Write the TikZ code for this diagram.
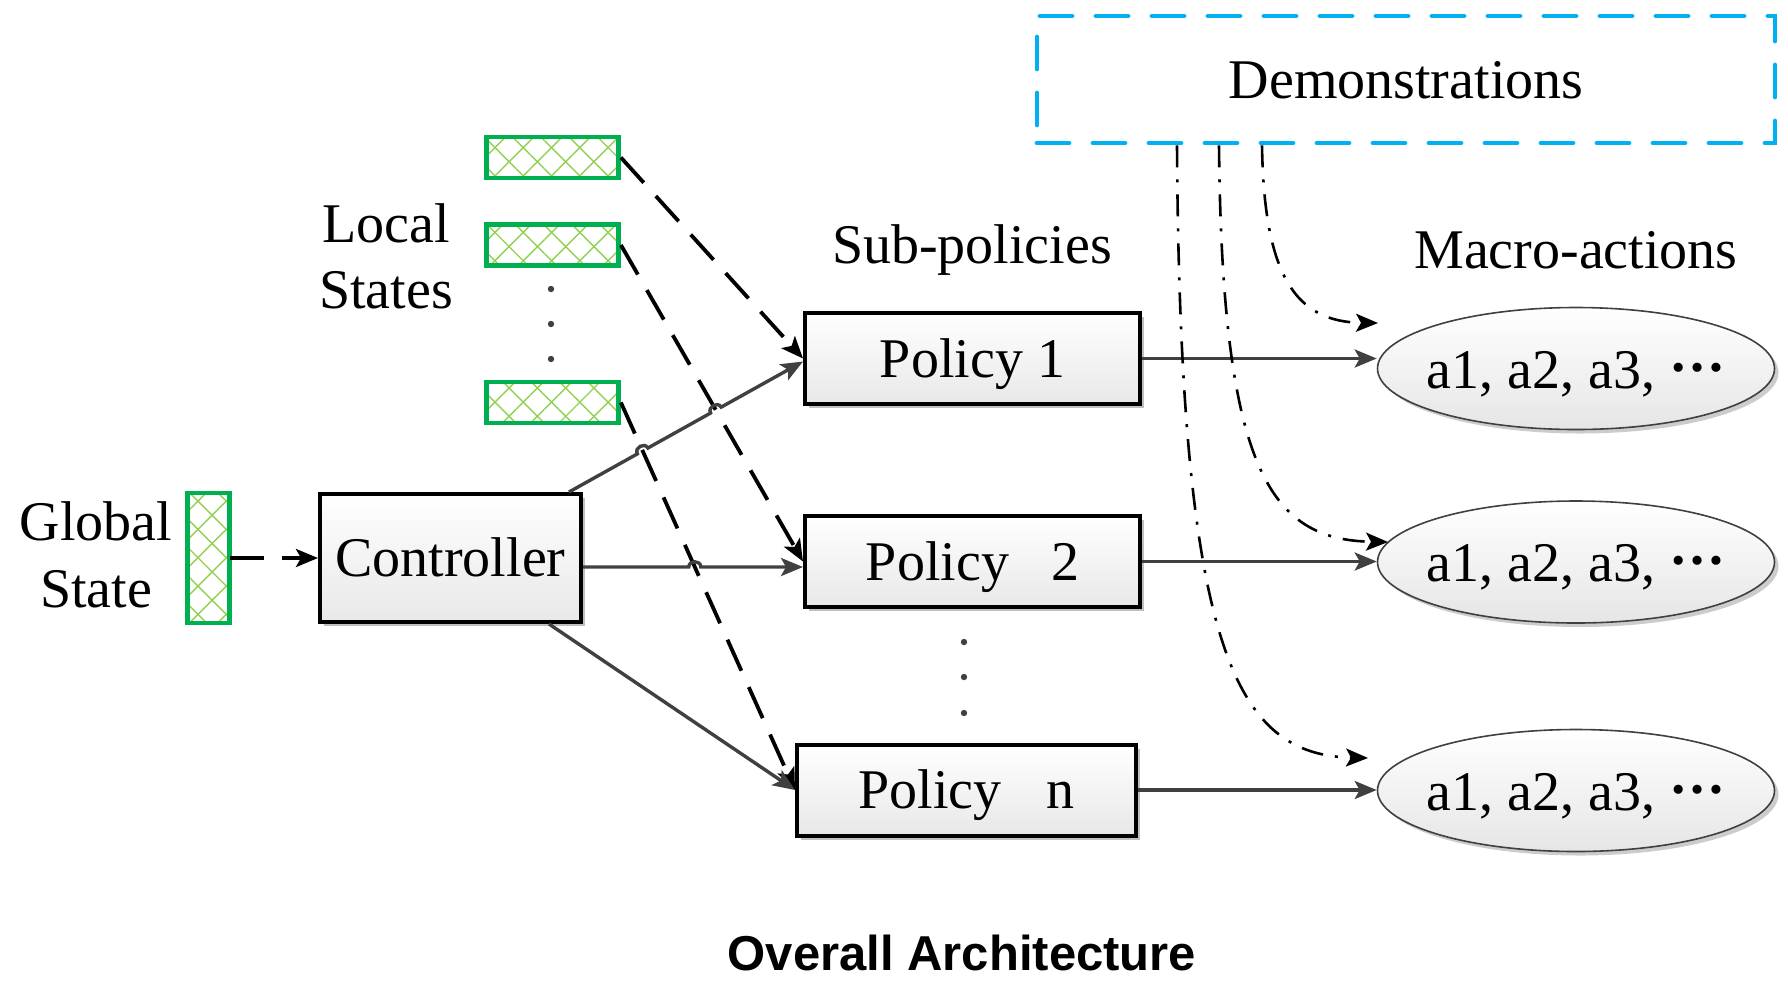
\documentclass[tikz,border=0pt]{standalone}
\usepackage{fontspec}
\setmainfont{Liberation Serif}
\newfontfamily\titlefont{Liberation Sans}
\usetikzlibrary{arrows.meta,shadows,patterns.meta,intersections,calc,shapes.geometric}
\definecolor{dgreen}{HTML}{00B050}
\definecolor{lgreen}{HTML}{92D050}
\definecolor{dblue}{HTML}{00B0F0}
\definecolor{lgray}{HTML}{404040}
\newcommand{\mydots}{\raisebox{0.3em}{\bfseries …}}
\begin{document}
\begin{tikzpicture}[x=0.5pt,y=-0.5pt,
  every node/.style={font=\fontsize{28}{33}\selectfont},
  box/.style={draw=black, line width=2pt, rectangle, top color=white, bottom color=black!9,
    drop shadow={shadow xshift=2pt,shadow yshift=-2pt,opacity=0.25,fill=black},
    text height=18.5pt, text depth=0pt, inner sep=0pt},
  oval/.style={draw=lgray, line width=0.8pt, ellipse, top color=white, bottom color=black!10,
    drop shadow={shadow xshift=2pt,shadow yshift=-2pt,opacity=0.2,fill=black},
    minimum width=198.5pt, minimum height=61pt, inner sep=0pt},
  hatch/.style={draw=dgreen, line width=2.4pt, inner sep=0pt,
    preaction={pattern={Lines[angle=45,distance=10pt,line width=0.7pt]}, pattern color=lgreen},
    pattern={Lines[angle=-45,distance=10pt,line width=0.7pt]}, pattern color=lgreen},
  lbl/.style={anchor=base, inner sep=0pt},
  gline/.style={draw=lgray, line width=1.7pt, -{Stealth[length=11pt,width=9pt,inset=2.5pt]}},
  dline/.style={draw=black, line width=1.9pt, dash pattern=on 17pt off 9pt, -{Stealth[length=11pt,width=9pt,inset=2.5pt]}},
  ddot/.style={draw=black, line width=1.3pt, dash pattern=on 11pt off 6pt on 1.5pt off 6pt, -{Stealth[length=11pt,width=9pt,inset=2.5pt]}},
  dot/.style={circle, fill=lgray, inner sep=0pt, minimum size=3.2pt}
]
\useasboundingbox (0,0) rectangle (1788,982);

% Demonstrations
\node[draw=dblue, line width=2.4pt, line cap=round, dash pattern=on 16pt off 12pt,
  minimum width=369pt, minimum height=63.5pt, text height=18.5pt, text depth=0pt, inner sep=0pt]
  (dem) at (1406,79.5) {Demonstrations};

% labels
\node[lbl] (loc1) at (386,242) {Local};
\node[lbl] (loc2) at (386,308) {States};
\node[lbl] (glob1) at (96,540) {Global};
\node[lbl] (glob2) at (96,607) {State};
\node[lbl] (subp) at (972,263) {Sub-policies};
\node[lbl] (macro) at (1576,268) {Macro-actions};

% state boxes
\node[hatch, minimum width=21pt, minimum height=65pt] (gs) at (208.5,558) {};
\node[hatch, minimum width=66pt, minimum height=20.5pt] (ls1) at (552.5,157.5) {};
\node[hatch, minimum width=66pt, minimum height=20.5pt] (ls2) at (552.5,245) {};
\node[hatch, minimum width=66pt, minimum height=20.5pt] (ls3) at (552.5,402.5) {};
\node[dot] (lsd1) at (551,289) {};
\node[dot] (lsd2) at (551,324) {};
\node[dot] (lsd3) at (551,359) {};

% controller and policies
\node[box, minimum width=130.5pt, minimum height=64pt] (ctrl) at (450.5,558) {Controller};
\node[box, minimum width=167.5pt, minimum height=45.5pt] (p1) at (972.5,358.5) {Policy 1};
\node[box, minimum width=167.5pt, minimum height=45.5pt] (p2) at (972.5,561.5) {Policy\hspace{0.5em} 2};
\node[box, minimum width=169.5pt, minimum height=45.5pt] (pn) at (966.5,790) {Policy\hspace{0.55em} n};
\node[dot] (pd1) at (964,642) {};
\node[dot] (pd2) at (964,677) {};
\node[dot] (pd3) at (964,713) {};

% macro-action ellipses
\node[oval] (e1) at (1576,368.5) {};
\node[oval] (e2) at (1576,562) {};
\node[oval] (e3) at (1576,790.5) {};
\node[lbl] (e1t) at ($(e1.center)+(0,19.5)$) {a1, a2, a3, \mydots};
\node[lbl] (e2t) at ($(e2.center)+(0,19.5)$) {a1, a2, a3, \mydots};
\node[lbl] (e3t) at ($(e3.center)+(0,19.5)$) {a1, a2, a3, \mydots};

% global -> controller
\draw[dline] (gs.east) -- (ctrl.west);

% local -> policies (dashed)
\draw[dline] (ls1.east) -- (p1.west);
\draw[dline, name path=dd2] (ls2.east) -- (p2.west);
\draw[dline, name path=dd3] (ls3.east) -- (pn.west);

% controller -> policies with line jumps
\coordinate (cA) at ($(ctrl.north east)+(-14,0)$);
\coordinate (pA) at ($(p1.west)+(0,3)$);
\coordinate (cB) at ($(ctrl.east)+(0,9)$);
\coordinate (pB) at (cB -| p2.west);
\coordinate (cC) at ($(ctrl.south east)+(-34,0)$);
\path[name path=ga] (cA) -- (pA);
\path[name path=gb] (cB) -- (pB);
\path[name intersections={of=ga and dd3,by=j1}];
\path[name intersections={of=ga and dd2,by=j2}];
\path[name intersections={of=gb and dd3,by=j3}];
\draw[gline] (cA) -- ($(j1)!3pt!(cA)$) to[bend left=90,looseness=1.5] ($(j1)!3pt!(pA)$)
  -- ($(j2)!3pt!(cA)$) to[bend left=90,looseness=1.5] ($(j2)!3pt!(pA)$) -- (pA);
\draw[gline] (cB) -- ($(j3)!3pt!(cB)$) to[bend left=90,looseness=1.5] ($(j3)!3pt!(pB)$) -- (pB);
\draw[gline] (cC) -- (pn.west);

% policies -> ellipses
\draw[gline] (p1.east) -- (p1.east -| e1.west);
\draw[gline] (p2.east) -- (p2.east -| e2.west);
\draw[gline] (pn.east) -- (pn.east -| e3.west);

% demonstrations -> macro-actions
\coordinate (s1) at ($(dem.south)+(-229,0)$);
\coordinate (s2) at ($(dem.south)+(-187,0)$);
\coordinate (s3) at ($(dem.south)+(-144,0)$);
\coordinate (t1) at (1378,323);
\coordinate (t2) at (1388,542);
\coordinate (t3) at (1368,758);
\draw[ddot] (s3) .. controls (1264,275) and (1295,322) .. (t1);
\draw[ddot] (s2) .. controls (1222,470) and (1270,540) .. (t2);
\draw[ddot] (s1) .. controls (1180,650) and (1235,755) .. (t3);

% title
\node[lbl, font=\titlefont\bfseries\fontsize{24.5}{28}\selectfont] (title) at (962,970) {Overall Architecture};
\end{tikzpicture}
\end{document}
